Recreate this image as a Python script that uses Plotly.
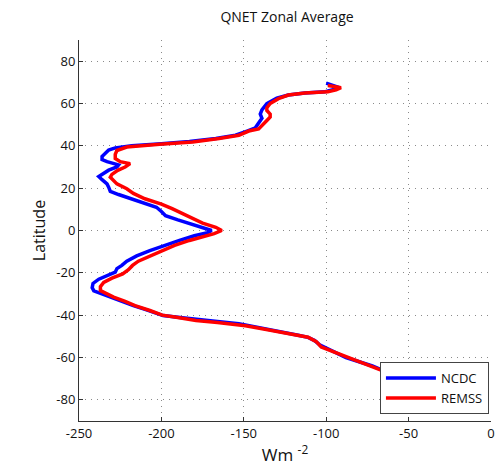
import plotly.graph_objects as go

ncdc_lat = [69.6, 68.5, 67.5, 66.5, 65.5, 65, 64, 62.5, 60, 57, 55, 53, 51, 48.5, 47, 45, 43.5, 42, 41, 40, 39, 38,
            36.5, 35, 33.5, 32.5, 31, 30, 28.5, 27, 25.5, 24, 22, 20.5, 18.5, 17, 15, 13, 11, 9, 7, 5, 3, 1.5, 0,
            -1, -2.5, -4.7, -7, -9.5, -12, -14.5, -16.5, -18, -19.7, -21, -23, -25, -27, -28.5, -30, -31.5, -33.5,
            -35.5, -37.5, -39.3, -40.2, -41, -42, -43, -44, -45, -46.5, -48, -49.5, -50.5, -52, -54, -55.5, -57.5,
            -60, -62, -64, -66, -68]
ncdc_val = [-100, -95, -92, -96, -101, -113, -123, -130, -136, -139, -140, -139, -141, -143, -148, -155, -167, -183,
            -200, -218, -228, -232, -234, -236, -236, -233, -226, -227, -232, -235, -238, -236, -233, -232, -231,
            -226, -218, -210, -203, -200, -197.5, -190, -182, -175, -169.5, -172, -180, -189, -198, -207, -215,
            -221, -224, -227, -228, -232, -238, -241.5, -242, -241, -236, -231, -224, -217, -209, -203, -199, -190,
            -180, -166, -153, -146, -135, -126, -117, -111, -107, -104, -100, -94, -88, -80, -72, -66, -60]

remss_lat = [68.5, 68, 67.5, 66.5, 65.5, 65, 64, 62.3, 60, 58, 56.7, 55, 53.6, 52, 50.4, 48, 47, 45, 43.5, 41.8,
             40.7, 39.4, 37.8, 36, 34, 32.5, 31.6, 30, 28.4, 26.5, 25.2, 23.5, 22, 19.7, 17.5, 15, 12.5, 10.3, 8.7,
             6, 3.5, 1.5, 0, -1.5, -3, -4.7, -7, -9.5, -12, -14.5, -16.5, -18.5, -20.5, -22.5, -24.5, -26.5, -28.4,
             -30, -31.5, -33.5, -35.5, -37.8, -40, -41, -42.5, -43.5, -45, -46.5, -48, -49.5, -50.4, -52.5, -55,
             -57.5, -60, -62.5, -64.6, -66.5, -68]
remss_val = [-99, -94, -91, -94, -99, -113, -123, -129, -134, -136, -136, -134, -134, -136, -138, -141, -147, -153,
             -165, -181, -201, -221, -227, -228, -228, -225, -219, -222, -226.5, -230, -231, -229, -227, -221, -217,
             -210, -200, -193.5, -189, -182, -175, -167, -163.4, -168, -176, -183, -192, -199.5, -207, -214, -217.5,
             -220, -223.5, -230, -235, -237, -237, -233, -229, -222, -216, -207, -199.5, -191, -179, -166, -149,
             -138, -127.4, -118, -111, -106, -103, -95, -87, -79, -71, -65, -60]

x_ticks = [-250, -200, -150, -100, -50, 0]
y_ticks = [-80, -60, -40, -20, 0, 20, 40, 60, 80]

fig = go.Figure()
fig.add_trace(go.Scatter(x=ncdc_val, y=ncdc_lat, mode="lines", name="NCDC",
                         line=dict(color="#0000ff", width=3.5)))
fig.add_trace(go.Scatter(x=remss_val, y=remss_lat, mode="lines", name="REMSS",
                         line=dict(color="#ff0000", width=3.5)))

axis_common = dict(showgrid=True, gridcolor="#8a8a8a", griddash="1px,5px", gridwidth=1,
                   zeroline=False, ticks="inside", ticklen=4, tickcolor="#333",
                   showline=True, linecolor="#333", linewidth=1,
                   tickfont=dict(size=13, color="#111"))

fig.update_layout(
    width=499, height=473,
    margin=dict(l=79, r=4, t=40, b=52),
    paper_bgcolor="white", plot_bgcolor="white",
    font=dict(family="Open Sans", color="#111"),
    title=dict(text="QNET Zonal Average", x=(79 + 495) / 2 / 499, xanchor="center",
               y=1 - 17 / 473, yanchor="middle", font=dict(size=14)),
    xaxis=dict(range=[-250, 0], tickvals=x_ticks, ticktext=[str(v) for v in x_ticks],
               title=dict(text="Wm <sup>-2</sup>", font=dict(size=17), standoff=8), **axis_common),
    yaxis=dict(range=[-90, 90], tickvals=y_ticks, ticktext=[str(v) for v in y_ticks],
               title=dict(text="Latitude", font=dict(size=16), standoff=6), **axis_common),
    legend=dict(x=0.995, y=0.018, xanchor="right", yanchor="bottom",
                bgcolor="white", bordercolor="#444", borderwidth=1,
                font=dict(size=13), tracegroupgap=0, itemwidth=50),
    showlegend=True,
)

fig.write_html("out.html")
